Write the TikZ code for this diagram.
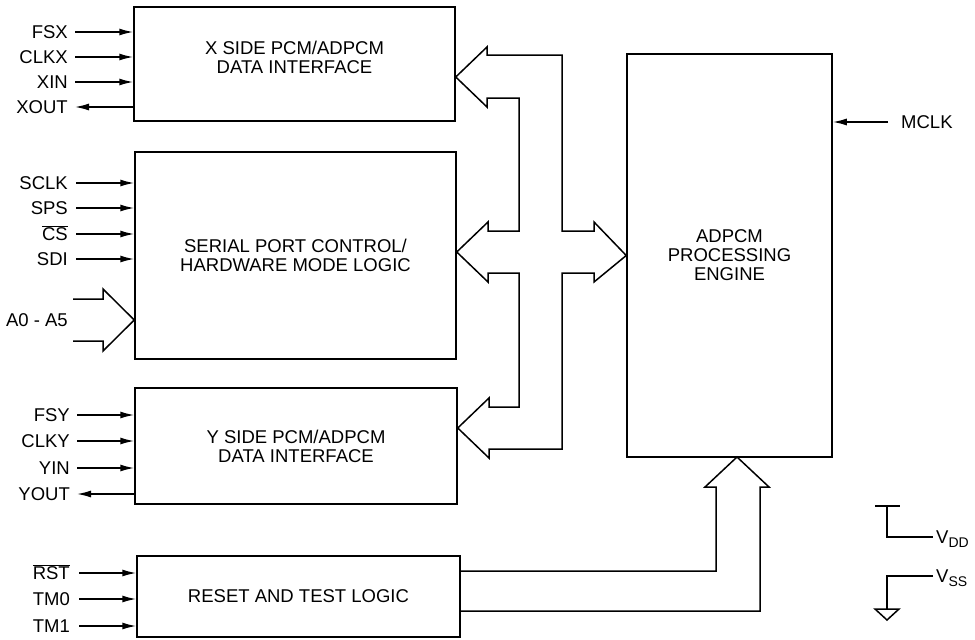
\documentclass[tikz,border=0pt]{standalone}
\usepackage{fontspec}
\setmainfont{Liberation Sans}
\usetikzlibrary{arrows.meta}
\newcommand\pinsub[1]{\raisebox{-4pt}{\fontsize{14}{14}\selectfont #1}}
\begin{document}
\begin{tikzpicture}[x=1pt,y=-1pt,
    every node/.style={font=\fontsize{18.5}{19}\selectfont},
    blk/.style={draw,line width=1.5pt,inner sep=0pt,align=center},
    pinlbl/.style={anchor=east,inner sep=0pt,text height=13pt,text depth=0pt},
    sigin/.style={line width=1.5pt,-{Latex[length=14pt,width=7pt]}},
    sigout/.style={line width=1.5pt,{Latex[length=14pt,width=7pt]}-},
    bus/.style={line width=1.5pt,line join=miter}]
  \useasboundingbox (0,0) rectangle (975,640);
  \node[blk,minimum width=321pt,minimum height=114pt] (xbox) at (294.5,64) {};
  \node[align=center] (xtxt) at ([yshift=7pt]xbox.center) {X SIDE PCM/ADPCM\\DATA INTERFACE};
  \node[blk,minimum width=321pt,minimum height=207pt] (spbox) at (295.5,255.5) {SERIAL PORT CONTROL/\\HARDWARE MODE LOGIC};
  \node[blk,minimum width=322pt,minimum height=116pt] (ybox) at (296,446) {Y SIDE PCM/ADPCM\\DATA INTERFACE};
  \node[blk,minimum width=323pt,minimum height=81pt] (rstbox) at (298.5,596.5) {RESET AND TEST LOGIC};
  \node[blk,minimum width=205pt,minimum height=403pt] (engine) at (729.5,255.5) {ADPCM\\PROCESSING\\ENGINE};
  % pins
  \foreach \y/\n/\t/\s in {32/fsx/FSX/sigin,57/clkx/CLKX/sigin,82/xin/XIN/sigin,107/xout/XOUT/sigout}
    {\node[pinlbl] (\n) at (68,\y) {\t};
     \draw[\s] ([xshift=7pt]\n.east) -- (\n.east -| xbox.west);}
  \foreach \y/\n/\t/\s in {183/sclk/SCLK/sigin,208/sps/SPS/sigin,234/cs/{$\overline{\mbox{CS}}$}/sigin,259/sdi/SDI/sigin}
    {\node[pinlbl] (\n) at (68,\y) {\t};
     \draw[\s] ([xshift=8pt]\n.east) -- (\n.east -| spbox.west);}
  \foreach \y/\n/\t/\s in {415/fsy/FSY/sigin,441/clky/CLKY/sigin,468/yin/YIN/sigin,494/yout/YOUT/sigout}
    {\node[pinlbl] (\n) at (70,\y) {\t};
     \draw[\s] ([xshift=7pt]\n.east) -- (\n.east -| ybox.west);}
  \foreach \y/\n/\t/\s in {573/rst/{$\overline{\mbox{RST}}$}/sigin,599/tmz/TM0/sigin,626/tmo/TM1/sigin}
    {\node[pinlbl] (\n) at (70,\y) {\t};
     \draw[\s] ([xshift=9pt]\n.east) -- (\n.east -| rstbox.west);}
  \node[pinlbl] (addr) at (68,320) {A0 - A5};
  \draw[bus] (73,299) -- (103,299) -- (103,289) -- (addr -| spbox.west) -- (103,351) -- (103,341) -- (73,341);
  % internal bus
  \draw[bus] (engine.west) -- (594,222) -- (594,231) -- (562,231) -- (562,55) -- (487,55) -- (487,47)
    -- (xbox.east |- 0,77) -- (487,107) -- (487,98) -- (519,98) -- (519,231) -- (488,231) -- (488,222)
    -- (spbox.east |- 0,252) -- (488,282) -- (488,273) -- (519,273) -- (519,407) -- (489,407) -- (489,398)
    -- (ybox.east |- 0,428) -- (489,458) -- (489,449) -- (562,449) -- (562,273) -- (594,273) -- (594,282) -- cycle;
  \coordinate (rl) at (716,571);
  \coordinate (rr) at (760,611);
  \draw[bus] (rl -| rstbox.east) -- (rl) -- (716,487) -- (705,487) -- (737,457) -- (769,487) -- (760,487) -- (rr) -- (rr -| rstbox.east);
  % clock and supplies
  \node[pinlbl,anchor=west] (mclk) at (901,122) {MCLK};
  \draw[sigin] ([xshift=-13pt]mclk.west) -- (mclk.west -| engine.east);
  \node[pinlbl,anchor=west] (vdd) at (936,537) {V\pinsub{DD}};
  \draw[line width=1.5pt] (875,506) -- (900,506) (887,506) |- ([xshift=-3pt]vdd.west);
  \node[pinlbl,anchor=west] (vss) at (936,576) {V\pinsub{SS}};
  \draw[line width=1.5pt] ([xshift=-3pt]vss.west) -| (887,609);
  \draw[line width=1.5pt,line join=miter] (875,609) -- (899,609) -- (887,620) -- cycle;
\end{tikzpicture}
\end{document}
